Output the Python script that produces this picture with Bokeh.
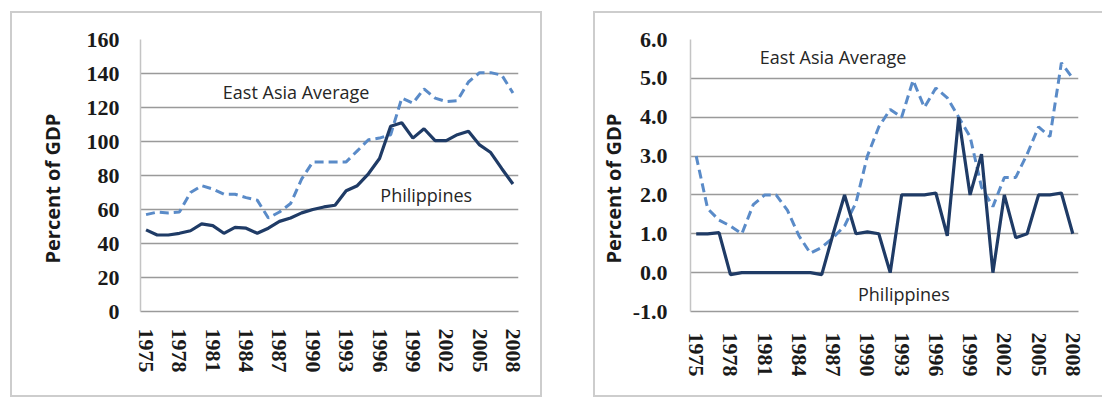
from bokeh.plotting import figure
from bokeh.layouts import row
from bokeh.models import FixedTicker, Label, NumeralTickFormatter, Title
from bokeh.embed import file_html
from bokeh.resources import INLINE

years = list(range(1975, 2009))
tick_years = years[::3]

# Left chart (percent of GDP, 0-160)
left_phil = [48, 45, 45, 46, 47.5, 51.5, 50.5, 46, 49.5, 49, 46, 49, 53, 55, 58, 60,
             61.5, 62.5, 71, 74, 81, 90, 109, 111, 102, 107.5, 100.5, 100.5, 104, 106,
             98, 93.5, 84, 75]
left_east = [57, 58.5, 58, 58.5, 70, 74, 72, 69, 69, 67, 65.5, 55, 58.5, 63.5, 78, 88,
             88, 88, 88, 94.5, 101, 102, 104, 125.5, 122.5, 131, 125.5, 123.5, 124, 135,
             140.5, 140.5, 139, 128.5]

# Right chart (percent of GDP, -1 to 6)
right_phil = [1.0, 1.0, 1.03, -0.05, 0, 0, 0, 0, 0, 0, 0, -0.05, 1.0, 2.0, 1.0, 1.05,
              1.0, 0, 2.0, 2.0, 2.0, 2.05, 0.95, 4.0, 2.0, 3.05, 0, 2.0, 0.9, 1.0,
              2.0, 2.0, 2.05, 1.0]
right_east = [3.0, 1.65, 1.35, 1.2, 1.0, 1.75, 2.0, 2.0, 1.6, 0.95, 0.5, 0.65, 0.9, 1.2,
              1.8, 3.0, 3.75, 4.2, 4.0, 4.95, 4.25, 4.75, 4.5, 4.0, 3.5, 2.2, 1.7, 2.45,
              2.45, 3.05, 3.75, 3.5, 5.4, 5.0]

SOLID = "#1f3b66"
DASH = "#5a8bc8"
GRID = "#8f8f8f"
TICK_FONT = "Liberation Serif"
TEXT_FONT = "Open Sans"
BORDER = "2px solid #cdcdcd"


def make(width, y_range, y_ticks, fmt, borders, margin, phil, east, labels,
         title_standoff, styles, x_standoff, y_standoff):
    p = figure(width=width, height=386, x_range=(1974.5, 2008.5), y_range=y_range,
               output_backend="svg", toolbar_location=None,
               min_border_left=borders[0], min_border_right=borders[1],
               min_border_top=borders[2], min_border_bottom=borders[3],
               margin=margin)
    p.styles = styles
    p.background_fill_color = "white"
    p.border_fill_color = "white"
    p.outline_line_color = None
    p.xgrid.grid_line_color = None
    p.ygrid.grid_line_color = GRID
    p.ygrid.grid_line_width = 1.6
    p.ygrid.grid_line_alpha = 0.9

    p.xaxis.ticker = FixedTicker(ticks=tick_years)
    p.xaxis.major_label_orientation = "vertical"
    p.yaxis.ticker = FixedTicker(ticks=y_ticks)
    if fmt:
        p.yaxis.formatter = NumeralTickFormatter(format=fmt)
    for ax in (p.xaxis, p.yaxis):
        ax.major_tick_line_color = None
        ax.minor_tick_line_color = None
        ax.major_label_text_font = TICK_FONT
        ax.major_label_text_font_style = "bold"
        ax.major_label_text_font_size = "22px"
        ax.major_label_text_color = "#1a1a1a"
    p.xaxis.axis_line_color = "#9a9a9a"
    p.xaxis.axis_line_width = 1.6
    p.yaxis.axis_line_color = "#c4c4c4"
    p.yaxis.axis_line_width = 1.5
    p.xaxis.major_label_standoff = x_standoff
    p.yaxis.major_label_standoff = y_standoff

    p.add_layout(Title(text="Percent of GDP", align="left", offset=48,
                       standoff=title_standoff, text_font=TEXT_FONT,
                       text_font_style="bold", text_font_size="20px",
                       text_color="#1a1a1a"), "left")

    p.line(years, east, line_color=DASH, line_width=3, line_dash="9 5")
    p.line(years, phil, line_color=SOLID, line_width=3.2)

    for txt, x, y in labels:
        p.add_layout(Label(x=x, y=y, text=txt, text_align="center",
                           text_baseline="middle", text_font=TEXT_FONT,
                           text_font_size="18px", text_color="#262626"))
    return p


p1 = make(532, (0, 160), list(range(0, 161, 20)), None, (128, 26, 24, 88),
          (11, 0, 0, 10), left_phil, left_east,
          [("East Asia Average", 1988.5, 129), ("Philippines", 2000.2, 68.5)],
          35, {"border": BORDER}, 11, 15)

p2 = make(509, (-1, 6), list(range(-1, 7)), "0.0", (87, 26, 26, 86),
          (11, 0, 0, 51), right_phil, right_east,
          [("East Asia Average", 1987.0, 5.56), ("Philippines", 1993.2, -0.54)],
          5, {"border-left": BORDER, "border-top": BORDER, "border-bottom": BORDER},
          15, 17)

layout = row(p1, p2)
open("out.html", "w").write(file_html(layout, INLINE))
